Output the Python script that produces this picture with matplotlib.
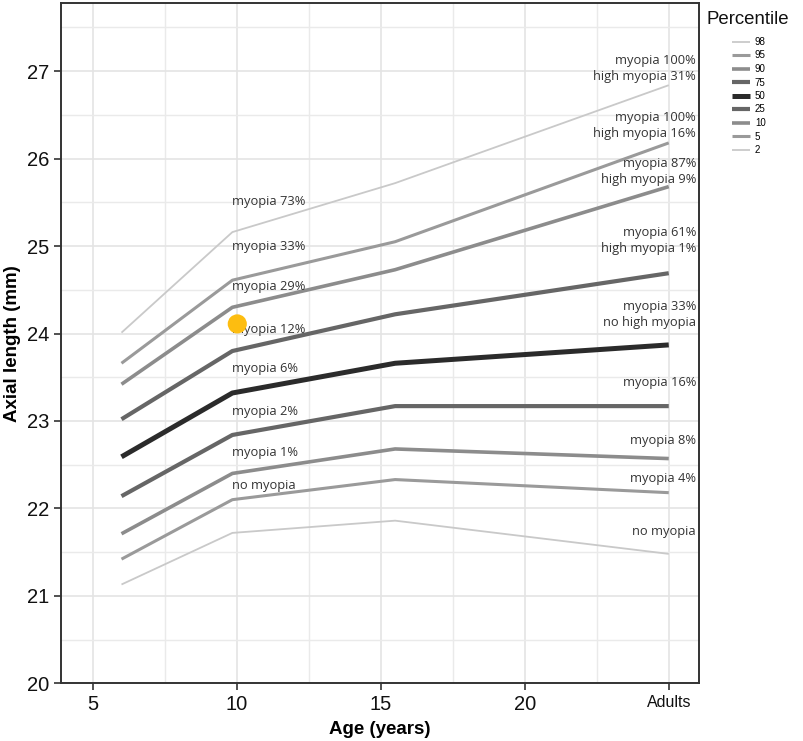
import numpy as np
import matplotlib.pyplot as plt
from matplotlib.ticker import MultipleLocator

# datos
ages = [6.0, 9.85, 15.5, 25.0]
percentiles = ["98", "95", "90", "75", "50", "25", "10", "5", "2"]
p98 = [24.01, 25.16, 25.72, 26.84]
p95 = [23.66, 24.61, 25.05, 26.18]
p90 = [23.42, 24.30, 24.73, 25.68]
p75 = [23.02, 23.80, 24.22, 24.69]
p50 = [22.59, 23.32, 23.66, 23.87]
p25 = [22.14, 22.84, 23.17, 23.17]
p10 = [21.71, 22.40, 22.68, 22.57]
p5  = [21.42, 22.10, 22.33, 22.18]
p2  = [21.13, 21.72, 21.86, 21.48]
series = [p98, p95, p90, p75, p50, p25, p10, p5, p2]

# etiquetas a los 10 años
labels_10 = ["myopia 73%", "myopia 33%", "myopia 29%", "myopia 12%",
             "myopia 6%", "myopia 2%", "myopia 1%", "no myopia"]
labels_10_y = [25.51, 24.99, 24.54, 24.05, 23.60, 23.11, 22.64, 22.26]

# etiquetas adultos
labels_ad = ["myopia 100%\nhigh myopia 31%", "myopia 100%\nhigh myopia 16%",
             "myopia 87%\nhigh myopia 9%", "myopia 61%\nhigh myopia 1%",
             "myopia 33%\nno high myopia", "myopia 16%", "myopia 8%",
             "myopia 4%", "no myopia"]
labels_ad_y = [27.03, 26.38, 25.85, 25.06, 24.22, 23.44, 22.78, 22.34, 21.74]

highlight_x = [10.02]
highlight_y = [24.11]

# estilos por percentil (simétricos)
colors = ["#c9c9c9", "#9a9a9a", "#8c8c8c", "#666666", "#2b2b2b",
          "#666666", "#8c8c8c", "#9a9a9a", "#c9c9c9"]
widths = [1.3, 2.2, 2.6, 3.0, 3.6, 3.0, 2.6, 2.2, 1.3]

fig = plt.figure(figsize=(8.04, 7.41), dpi=100)
ax = fig.add_axes([61 / 804, 1 - 683.3 / 741, 638 / 804, 680.3 / 741])

for pct, vals, c, lw in zip(percentiles, series, colors, widths):
    ax.plot(ages, vals, color=c, linewidth=lw, label=pct, solid_capstyle="butt", zorder=3)

for txt, y in zip(labels_10, labels_10_y):
    ax.text(9.85, y, txt, fontsize=9.3, family="Open Sans", color="#333333",
            ha="left", va="center", zorder=4)

for txt, y in zip(labels_ad, labels_ad_y):
    ax.text(25.95, y, txt, fontsize=9.3, family="Open Sans", color="#333333",
            ha="right", va="center", linespacing=1.3, zorder=4)

ax.scatter(highlight_x, highlight_y, s=190, color="#FDBD10", zorder=5, edgecolors="none")

ax.set_xlim(3.9, 26.05)
ax.set_ylim(20, 27.78)
ax.set_xticks([5, 10, 15, 20, 25])
ax.set_xticklabels(["5", "10", "15", "20", "Adults"])
ax.set_yticks([20, 21, 22, 23, 24, 25, 26, 27])
ax.xaxis.set_minor_locator(MultipleLocator(2.5))
ax.yaxis.set_minor_locator(MultipleLocator(0.5))
ax.grid(True, which="major", color="#e4e4e4", linewidth=1.2, zorder=0)
ax.grid(True, which="minor", color="#eaeaea", linewidth=1.0, zorder=0)
ax.set_axisbelow(True)

ax.tick_params(axis="both", which="major", length=5, width=1.2, color="#333333",
               labelsize=14.5, labelcolor="#111111")
ax.tick_params(axis="both", which="minor", length=0)
for lab in ax.get_xticklabels() + ax.get_yticklabels():
    lab.set_family("Liberation Sans")
ax.get_xticklabels()[-1].set_fontsize(11.5)
for s in ax.spines.values():
    s.set_color("#333333")
    s.set_linewidth(1.4)

ax.set_xlabel("Age (years)", fontsize=13.5, fontweight="bold", family="Liberation Sans", labelpad=5)
ax.set_ylabel("Axial length (mm)", fontsize=13.5, fontweight="bold", family="Liberation Sans", labelpad=4)

# leyenda
fig.text(707 / 804, 1 - 20 / 741, "Percentile", fontsize=13.4, family="Liberation Sans",
         ha="left", va="center", color="#111111")
leg = ax.legend(loc="upper left", bbox_to_anchor=(732 / 804, 1 - 37 / 741),
                bbox_transform=fig.transFigure, frameon=False, fontsize=7,
                handlelength=1.9, labelspacing=0.36, handletextpad=0.45,
                borderaxespad=0, borderpad=0)
for t in leg.get_texts():
    t.set_family("Liberation Sans")

plt.savefig("out.png", dpi=100)
plt.close()
